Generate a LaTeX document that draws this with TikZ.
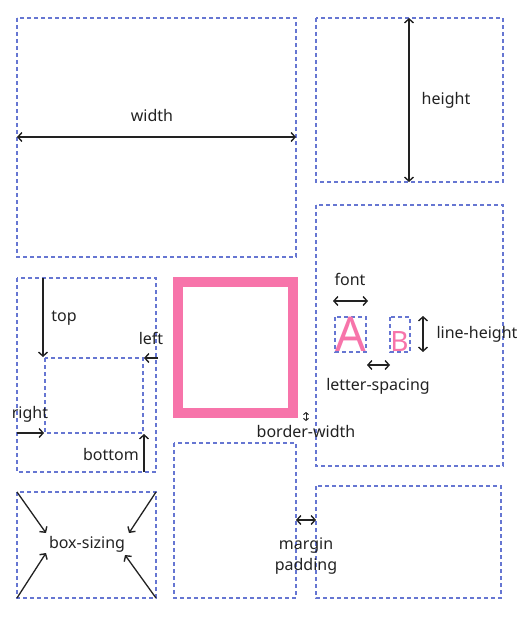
\documentclass[tikz,border=0pt]{standalone}
\usepackage{fontspec}
\setmainfont{Noto Sans}
\usetikzlibrary{arrows.meta}
\definecolor{dashblue}{HTML}{6676D2}
\definecolor{pinkc}{HTML}{F774AA}
\definecolor{ink}{HTML}{222222}
\begin{document}
\begin{tikzpicture}[x=1pt,y=-1pt,
  dbox/.style={draw=dashblue,line width=1.6pt,dash pattern=on 4pt off 3pt},
  barb/.tip={Straight Barb[length=4pt,width=9pt,line width=1.4pt]},
  dim/.style={draw=ink,line width=1.6pt,barb-barb},
  one/.style={draw=ink,line width=1.6pt,-barb},
  thin/.style={draw=ink,line width=1.3pt,-barb},
  lbl/.style={font=\fontsize{16}{18}\selectfont,text=ink,inner sep=0pt}]
\useasboundingbox (0,0) rectangle (522,618);
% boxes
\draw[dbox] (17,18) rectangle (296,257);
\draw[dbox] (316,18) rectangle (503,182);
\draw[dbox] (316,205) rectangle (503,466);
\draw[dbox] (17,278) rectangle (156,472);
\draw[dbox] (45,358) rectangle (143,433);
\draw[dbox] (174,443) rectangle (296,598);
\draw[dbox] (316,486) rectangle (501,598);
\draw[dbox] (17,492) rectangle (156,598);
\draw[dbox] (335,317) rectangle (366,352);
\draw[dbox] (390,317) rectangle (410,352);
\draw[draw=pinkc,line width=10pt] (178,282) rectangle (293,413);
% coordinates
\coordinate (wl) at (17,137); \coordinate (wr) at (296,137);
\coordinate (ht) at (409,18); \coordinate (hb) at (409,182);
\coordinate (t1) at (43,278); \coordinate (t2) at (43,357);
\coordinate (l1) at (158,358); \coordinate (l2) at (144,358);
\coordinate (r1) at (17,433); \coordinate (r2) at (44,433);
\coordinate (b1) at (144,472); \coordinate (b2) at (144,434);
\coordinate (bw1) at (306,412); \coordinate (bw2) at (306,421);
\coordinate (m1) at (296,520); \coordinate (m2) at (316,520);
\coordinate (f1) at (333,301); \coordinate (f2) at (368,301);
\coordinate (ls1) at (367,365); \coordinate (ls2) at (390,365);
\coordinate (lh1) at (423,316); \coordinate (lh2) at (423,352);
\coordinate (c1) at (17,492); \coordinate (c1e) at (46,533);
\coordinate (c2) at (156,492); \coordinate (c2e) at (129,533);
\coordinate (c3) at (17,598); \coordinate (c3e) at (46,553);
\coordinate (c4) at (156,598); \coordinate (c4e) at (125,555);
% arrows
\draw[dim] (wl) -- (wr);
\draw[dim] (ht) -- (hb);
\draw[one] (t1) -- (t2);
\draw[one] (l1) -- (l2);
\draw[one] (r1) -- (r2);
\draw[one] (b1) -- (b2);
\draw[draw=ink,line width=1pt,{Straight Barb[length=2pt,width=5pt]}-{Straight Barb[length=2pt,width=5pt]}] (bw1) -- (bw2);
\draw[dim] (m1) -- (m2);
\draw[dim] (f1) -- (f2);
\draw[dim] (ls1) -- (ls2);
\draw[dim] (lh1) -- (lh2);
\draw[thin] (c1) -- (c1e);
\draw[thin] (c2) -- (c2e);
\draw[thin] (c3) -- (c3e);
\draw[thin] (c4) -- (c4e);
% labels
\node[lbl] (lwidth) at (152,115) {width};
\node[lbl] (lheight) at (446,100) {height};
\node[lbl] (ltop) at (64,318) {top};
\node[lbl] (lleft) at (151,338) {left};
\node[lbl] (lright) at (30,414) {right};
\node[lbl] (lbottom) at (111,454) {bottom};
\node[lbl] (lbw) at (306,431) {border-width};
\node[lbl] (lmargin) at (306,546) {margin};
\node[lbl] (lpadding) at (306,566) {padding};
\node[lbl] (lbs) at (87,544) {box-sizing};
\node[lbl] (lfont) at (350,279) {font};
\node[lbl] (llh) at (477,334) {line-height};
\node[lbl] (lls) at (378,386) {letter-spacing};
\node[text=pinkc,font=\fontsize{48}{48}\selectfont,inner sep=0pt,anchor=base] (la) at (350.5,351) {A};
\node[text=pinkc,font=\fontsize{28}{28}\selectfont,inner sep=0pt,anchor=base] (lb) at (399.5,351) {B};
\end{tikzpicture}
\end{document}
